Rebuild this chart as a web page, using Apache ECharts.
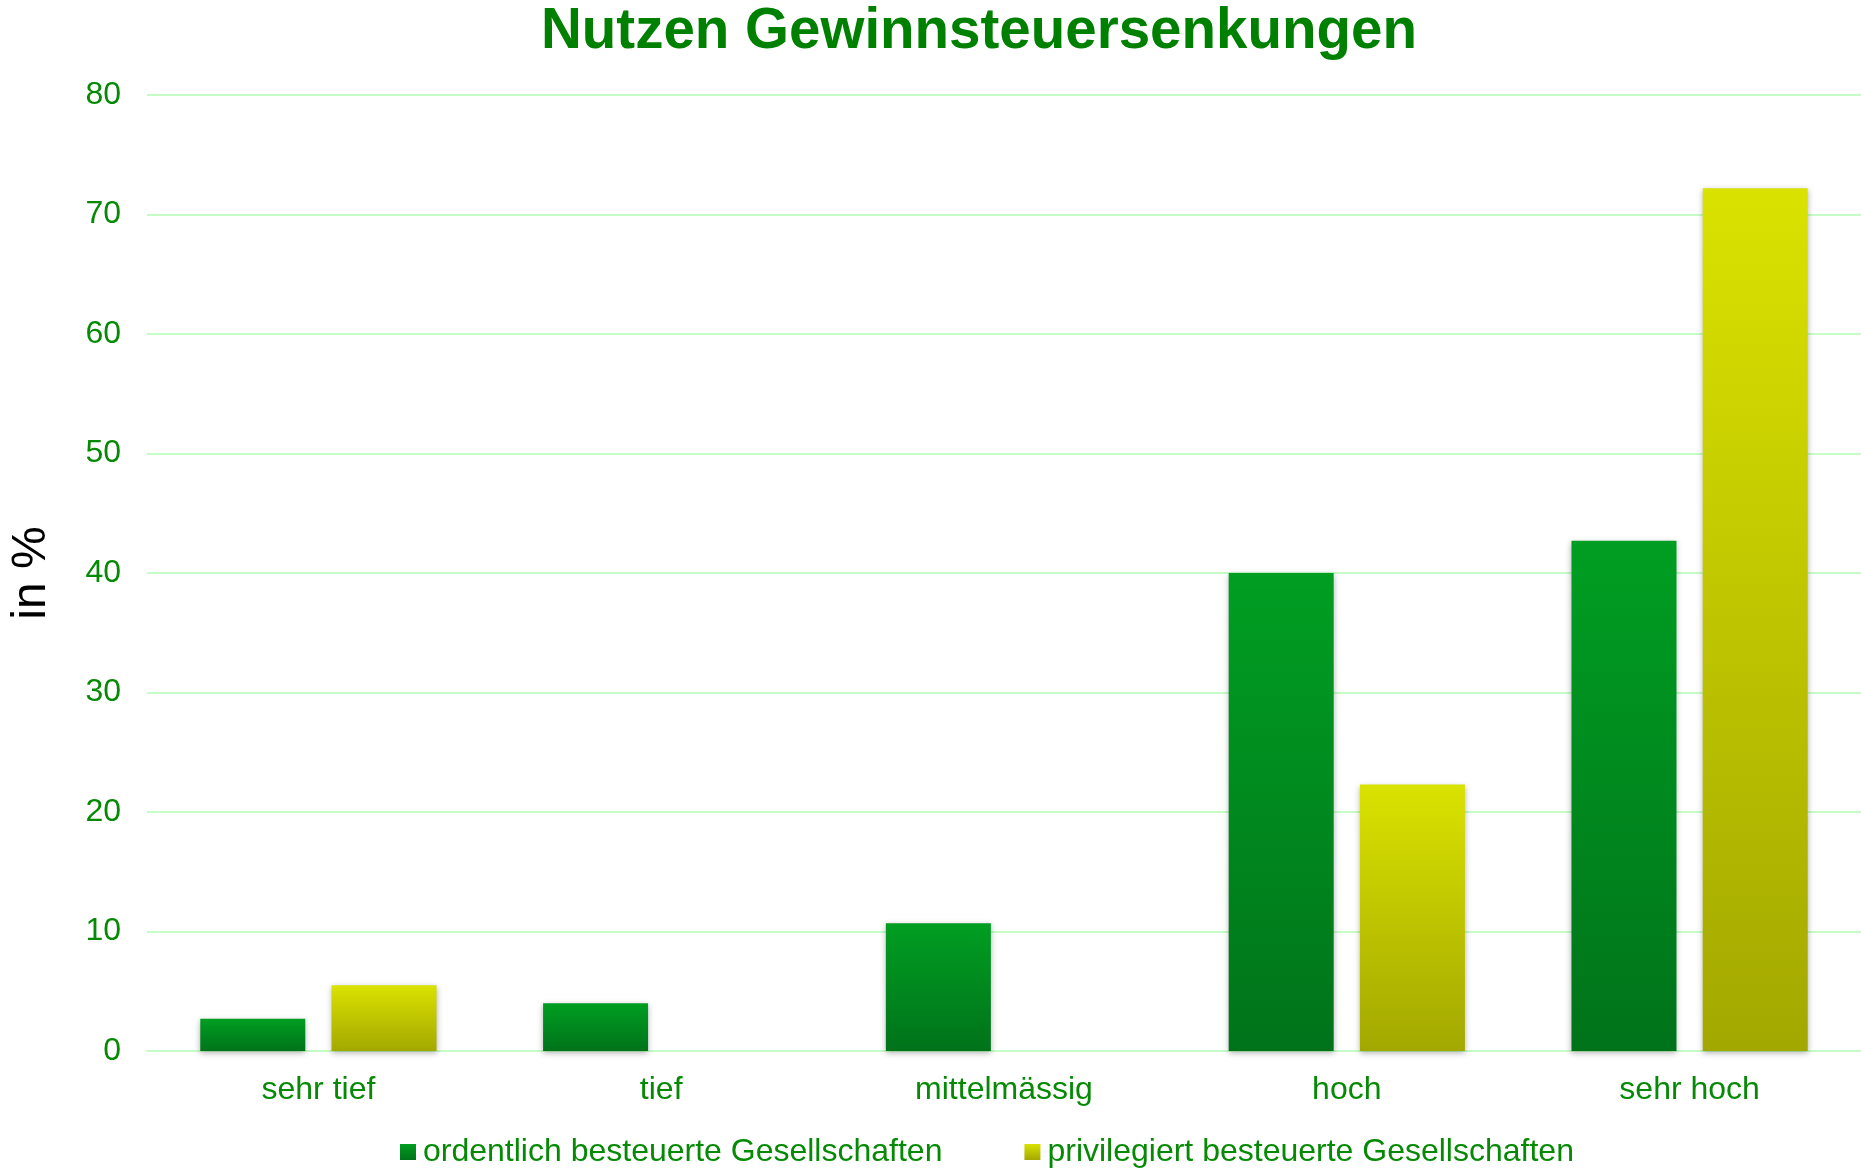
<!DOCTYPE html>
<html>
<head>
<meta charset="utf-8">
<script src="https://cdn.jsdelivr.net/npm/echarts@6/dist/echarts.min.js"></script>
<style>html,body{margin:0;padding:0;background:#fff}#c{width:1861px;height:1168px}</style>
</head>
<body>
<div id="c"></div>
<script>
var categories = ['sehr tief', 'tief', 'mittelmässig', 'hoch', 'sehr hoch'];
var seriesNames = ['ordentlich besteuerte Gesellschaften', 'privilegiert besteuerte Gesellschaften'];
var ordentlich = [2.7, 4.0, 10.7, 40.0, 42.7];
var privilegiert = [5.5, null, null, 22.3, 72.2];
var yTicks = { min: 0, max: 80, interval: 10 };

var FONT = '"Liberation Sans", Arial, sans-serif';
var TXT = '#068a06';
function grad(top, bottom) {
  return new echarts.graphic.LinearGradient(0, 0, 0, 1, [
    { offset: 0, color: top }, { offset: 1, color: bottom }
  ]);
}
var chart = echarts.init(document.getElementById('c'));
chart.setOption({
  animation: false,
  backgroundColor: '#ffffff',
  title: {
    text: 'Nutzen Gewinnsteuersenkungen',
    left: 974, textAlign: 'center', top: -1,
    textStyle: { fontFamily: FONT, fontSize: 56.5, fontWeight: 'bold', color: '#008000' }
  },
  legend: {
    left: 395, top: 1131,
    itemWidth: 16, itemHeight: 16, itemGap: 82,
    icon: 'rect',
    textStyle: { fontFamily: FONT, fontSize: 32, color: TXT, padding: [0, 0, 0, 2] },
    data: seriesNames
  },
  grid: { left: 146, right: 0, top: 95, bottom: 117, containLabel: false },
  xAxis: {
    type: 'category', data: categories,
    axisLine: { show: true, lineStyle: { color: '#c6fcc6', width: 2 } },
    axisTick: { show: false },
    axisLabel: { fontFamily: FONT, fontSize: 32, color: TXT, margin: 23 }
  },
  yAxis: {
    type: 'value', min: yTicks.min, max: yTicks.max, interval: yTicks.interval,
    name: 'in %', nameLocation: 'middle', nameRotate: 90, nameGap: 91,
    nameTextStyle: { fontFamily: FONT, fontSize: 48, color: '#000' },
    axisLine: { show: false }, axisTick: { show: false },
    axisLabel: { fontFamily: FONT, fontSize: 32, color: TXT, margin: 26 },
    splitLine: { lineStyle: { color: '#c6fcc6', width: 2 } }
  },
  series: [
    {
      name: seriesNames[0], type: 'bar', data: ordentlich,
      barWidth: 105, barGap: '25%',
      itemStyle: { color: grad('#009e22', '#00731a'), shadowColor: 'rgba(0,0,0,0.3)', shadowBlur: 6, shadowOffsetY: 2 }
    },
    {
      name: seriesNames[1], type: 'bar', data: privilegiert,
      barWidth: 105, barGap: '25%',
      itemStyle: { color: grad('#dae200', '#a3a800'), shadowColor: 'rgba(0,0,0,0.3)', shadowBlur: 6, shadowOffsetY: 2 }
    }
  ]
});
</script>
</body>
</html>
